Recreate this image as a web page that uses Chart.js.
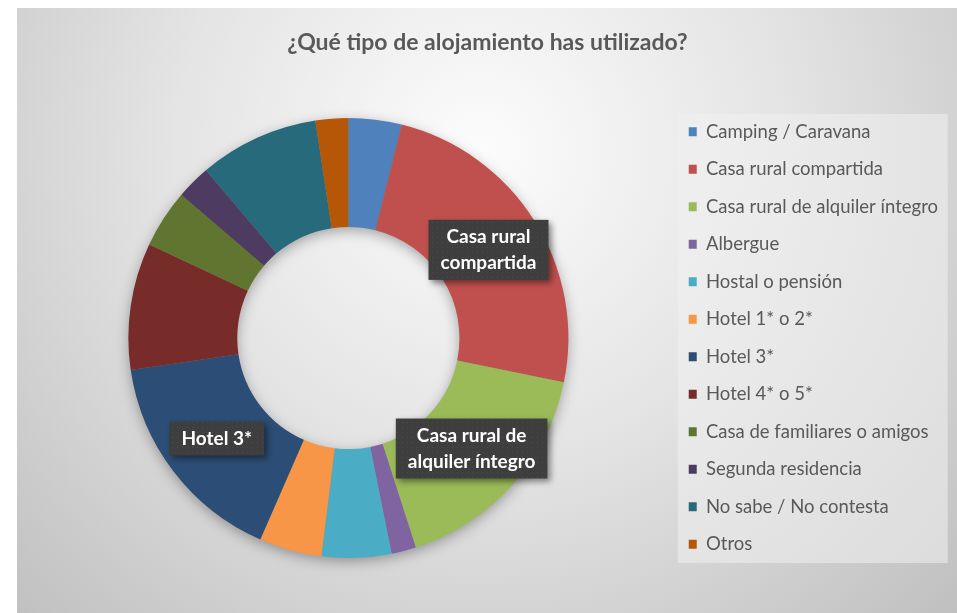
<!DOCTYPE html>
<html>
<head>
<meta charset="utf-8">
<script src="https://cdn.jsdelivr.net/npm/chart.js@4.4.1/dist/chart.umd.min.js"></script>
<style>
  html, body { margin: 0; padding: 0; background: #ffffff; }
  #wrap { width: 957px; height: 613px; }
</style>
</head>
<body>
<div id="wrap"><canvas id="alojamiento"></canvas></div>
<script>
// categorias y porcentajes
const categorias = [
  'Camping / Caravana',
  'Casa rural compartida',
  'Casa rural de alquiler íntegro',
  'Albergue',
  'Hostal o pensión',
  'Hotel 1* o 2*',
  'Hotel 3*',
  'Hotel 4* o 5*',
  'Casa de familiares o amigos',
  'Segunda residencia',
  'No sabe / No contesta',
  'Otros'
];
const porcentajes = [3.9, 24.3, 16.8, 1.8, 5.1, 4.6, 16.1, 9.3, 4.3, 2.5, 8.8, 2.4];
const colores = [
  '#4f81bd', '#c0504d', '#9bbb59', '#8064a2', '#4bacc6', '#f79646',
  '#2c4d75', '#772c2a', '#5f7530', '#4d3b62', '#276a7c', '#b65708'
];
// etiquetas que aparecen sobre el anillo
const etiquetas = {
  1: ['Casa rural', 'compartida'],
  2: ['Casa rural de', 'alquiler íntegro'],
  6: ['Hotel 3*']
};

const PAD = 19;

// fondo degradado + panel de la leyenda
const fondo = {
  id: 'fondo',
  beforeDraw(chart) {
    const ctx = chart.ctx;
    ctx.save();
    ctx.fillStyle = '#ffffff';
    ctx.fillRect(0, 0, chart.width, chart.height);
    const g = ctx.createRadialGradient(480, 150, 0, 480, 150, 680);
    g.addColorStop(0, '#fcfcfc');
    g.addColorStop(0.45, '#e4e4e4');
    g.addColorStop(1, '#bebebe');
    ctx.fillStyle = g;
    ctx.fillRect(17, 8, chart.width - 17, chart.height - 8);
    const lg = chart.legend;
    if (lg) {
      const cy = (lg.top + lg.bottom) / 2;
      const x0 = lg.left + PAD - 11;
      ctx.fillStyle = 'rgba(240,240,240,0.55)';
      ctx.fillRect(x0, cy - 224, 270, 449);
    }
    ctx.restore();
  },
  beforeDatasetsDraw(chart) {
    const arc = chart.getDatasetMeta(0).data[0];
    if (!arc) return;
    const p = arc.getProps(['x', 'y', 'innerRadius', 'outerRadius']);
    const ctx = chart.ctx;
    ctx.save();
    ctx.shadowColor = 'rgba(0,0,0,0.35)';
    ctx.shadowBlur = 14;
    ctx.shadowOffsetY = 4;
    ctx.fillStyle = '#888888';
    ctx.beginPath();
    ctx.arc(p.x, p.y, p.outerRadius - 1, 0, Math.PI * 2);
    ctx.arc(p.x, p.y, p.innerRadius + 1, 0, Math.PI * 2, true);
    ctx.fill();
    ctx.restore();
  }
};

// cajas oscuras con texto
let trama = null;
function getTrama(ctx) {
  if (trama) return trama;
  const c = document.createElement('canvas');
  c.width = 5; c.height = 5;
  const t = c.getContext('2d');
  t.fillStyle = '#3e3e3e';
  t.fillRect(0, 0, 5, 5);
  t.fillStyle = '#4b4b4b';
  t.fillRect(2, 2, 1, 1);
  trama = ctx.createPattern(c, 'repeat');
  return trama;
}

const rotulos = {
  id: 'rotulos',
  afterDatasetsDraw(chart) {
    const ctx = chart.ctx;
    const meta = chart.getDatasetMeta(0);
    ctx.save();
    ctx.font = 'bold 19px Lato';
    ctx.textAlign = 'center';
    ctx.textBaseline = 'middle';
    Object.keys(etiquetas).forEach(k => {
      const lines = etiquetas[k];
      const pos = meta.data[k].tooltipPosition();
      const w = Math.max(...lines.map(l => ctx.measureText(l).width)) + 24;
      const lh = 26;
      const h = lines.length * lh + 8;
      const x = pos.x - w / 2, y = pos.y - h / 2;
      ctx.save();
      ctx.shadowColor = 'rgba(0,0,0,0.45)';
      ctx.shadowBlur = 6;
      ctx.shadowOffsetX = 3;
      ctx.shadowOffsetY = 3;
      ctx.fillStyle = getTrama(ctx);
      ctx.fillRect(x, y, w, h);
      ctx.restore();
      ctx.fillStyle = '#ffffff';
      lines.forEach((l, i) => {
        ctx.fillText(l, pos.x, y + 4 + lh / 2 + i * lh);
      });
    });
    ctx.restore();
  }
};

new Chart(document.getElementById('alojamiento'), {
  type: 'doughnut',
  data: {
    labels: categorias,
    datasets: [{
      data: porcentajes,
      backgroundColor: colores,
      borderWidth: 0
    }]
  },
  options: {
    responsive: true,
    maintainAspectRatio: false,
    animation: false,
    cutout: '50.5%',
    radius: 220,
    layout: {
      padding: { left: 27, right: 9, top: 8, bottom: 30 }
    },
    events: [],
    plugins: {
      title: {
        display: true,
        text: '¿Qué tipo de alojamiento has utilizado?',
        color: '#595959',
        font: { family: 'Lato', size: 23, weight: 'bold', lineHeight: 1.2 },
        padding: { top: 21.2, bottom: 36.2 }
      },
      legend: {
        position: 'right',
        fullSize: false,
        labels: {
          color: '#595959',
          boxWidth: 8,
          boxHeight: 9,
          padding: PAD,
          font: { family: 'Lato', size: 18.5 }
        }
      },
      tooltip: { enabled: false }
    }
  },
  plugins: [fondo, rotulos]
});
</script>
</body>
</html>
